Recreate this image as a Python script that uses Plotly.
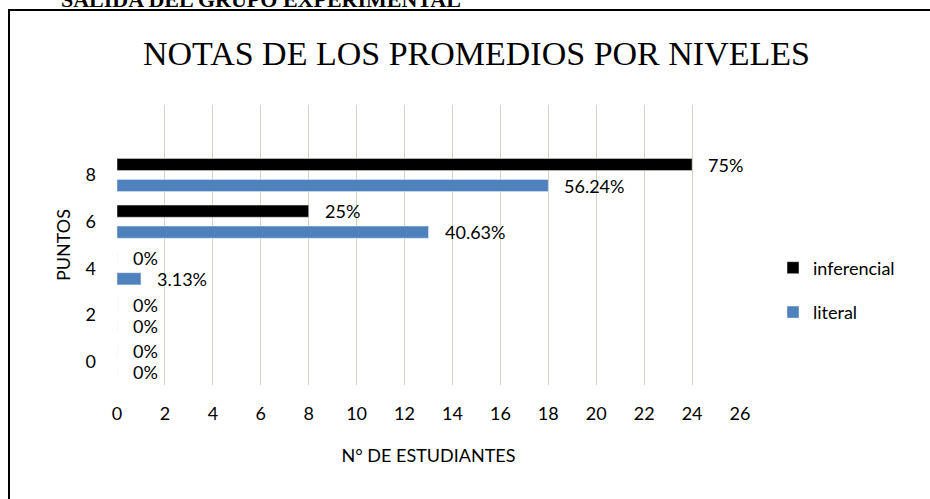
import plotly.graph_objects as go

puntos = [0, 2, 4, 6, 8]
literal = [0, 0, 1, 13, 18]
inferencial = [0, 0, 0, 8, 24]
literal_labels = ["0%", "0%", "3.13%", "40.63%", "56.24%"]
inferencial_labels = ["0%", "0%", "0%", "25%", "75%"]
x_ticks = list(range(0, 27, 2))

BLUE = "#4F81BD"
BLACK = "#000000"
FONT = "Lato"

fig = go.Figure()
fig.add_trace(go.Bar(
    y=puntos, x=inferencial, orientation="h", name="inferencial",
    marker=dict(color=BLACK), offset=0.19, width=0.52, legendgroup="a",
))
fig.add_trace(go.Bar(
    y=puntos, x=literal, orientation="h", name="literal",
    marker=dict(color=BLUE), offset=-0.71, width=0.52, legendgroup="b",
))

ann = []
for p, v, t in zip(puntos, inferencial, inferencial_labels):
    ann.append(dict(x=v, y=p + 0.45, xref="x", yref="y", text=t, showarrow=False,
                    xanchor="left", yanchor="middle", xshift=14,
                    font=dict(family=FONT, size=18, color="#000")))
for p, v, t in zip(puntos, literal, literal_labels):
    ann.append(dict(x=v, y=p - 0.45, xref="x", yref="y", text=t, showarrow=False,
                    xanchor="left", yanchor="middle", xshift=14,
                    font=dict(family=FONT, size=18, color="#000")))
# cropped heading at the very top of the page
ann.append(dict(x=(463 - 117) / 623, y=(385 + 1) / 280, xref="paper", yref="paper",
                text="<b>SALIDA DEL GRUPO EXPERIMENTAL</b>", showarrow=False,
                xanchor="right", yanchor="middle",
                font=dict(family="Liberation Serif", size=22, color="#000")))
# chart title
ann.append(dict(x=(476 - 117) / 623, y=(385 - 53) / 280, xref="paper", yref="paper",
                text="NOTAS DE LOS PROMEDIOS POR NIVELES", showarrow=False,
                xanchor="center", yanchor="middle",
                font=dict(family="Liberation Serif", size=34, color="#000")))

fig.update_layout(
    width=930, height=499,
    margin=dict(l=117, r=190, t=105, b=114),
    paper_bgcolor="white", plot_bgcolor="white",
    barmode="overlay",
    font=dict(family=FONT, size=18, color="#000"),
    annotations=ann,
    showlegend=True,
    legend=dict(x=(773 - 117) / 623, y=(385 - 290) / 280, xanchor="left", yanchor="middle",
                traceorder="grouped", tracegroupgap=18,
                font=dict(family=FONT, size=18, color="#000")),
    shapes=[dict(type="rect", xref="paper", yref="paper",
                 x0=(9 - 117) / 623, x1=(940 - 117) / 623,
                 y0=(385 - 510) / 280, y1=(385 - 10) / 280,
                 line=dict(color="black", width=2), fillcolor="rgba(0,0,0,0)", layer="below")],
)
fig.update_xaxes(
    range=[0, 26], tickvals=x_ticks, showgrid=True, gridcolor="#D9D5BC", gridwidth=1,
    zeroline=False, showline=False, ticks="", ticklabelstandoff=16,
    title=dict(text="N° DE ESTUDIANTES", font=dict(family=FONT, size=18), standoff=26),
)
fig.update_yaxes(
    range=[-1, 11], tickvals=puntos, showgrid=False, zeroline=False, showline=False,
    ticks="", ticklabelstandoff=20,
    title=dict(text="PUNTOS", font=dict(family=FONT, size=18), standoff=10),
)

fig.write_html("out.html", config={"displayModeBar": False},
               post_script="document.body.style.margin='0';document.body.style.overflow='hidden';")
